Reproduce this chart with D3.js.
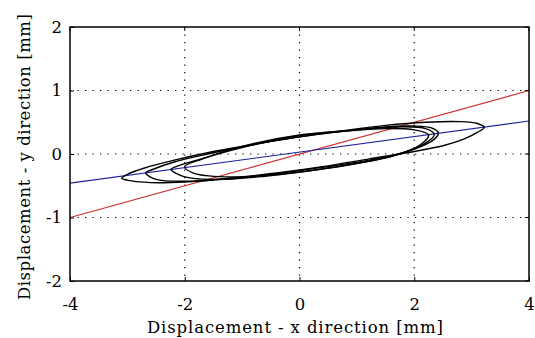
<!DOCTYPE html>
<html>
<head>
<meta charset="utf-8">
<script src="https://cdn.jsdelivr.net/npm/d3@7"></script>
<style>
  body { margin: 0; background: #fff; }
  svg text { font-family: "DejaVu Serif", serif; fill: #000; }
</style>
</head>
<body>
<div id="chart"></div>
<script>
// tick values on both axes
const xTicks = [-4, -2, 0, 2, 4];
const yTicks = [-2, -1, 0, 1, 2];

// straight reference lines (endpoints)
const redLine = [[-4, -1.0], [4, 1.0]];
const blueLine = [[-4, -0.46], [4, 0.52]];

// orbit loops, points (closed curves)
const loopOuter = [
  [3.22, 0.42], [3.1, 0.48], [2.8, 0.51], [2.2, 0.5], [1.5, 0.45], [0.8, 0.37], [0, 0.27],
  [-0.8, 0.15], [-1.6, 0.02], [-2.2, -0.1], [-2.7, -0.22], [-3.0, -0.32], [-3.1, -0.38],
  [-2.95, -0.42], [-2.6, -0.45], [-2.0, -0.44], [-1.2, -0.38], [-0.4, -0.3], [0.4, -0.2],
  [1.2, -0.08], [2.0, 0.04], [2.5, 0.13], [2.85, 0.23], [3.1, 0.34]
];
const loopMid = [
  [2.42, 0.33], [2.3, 0.41], [2.0, 0.44], [1.4, 0.42], [0.6, 0.34], [0, 0.27], [-0.8, 0.15],
  [-1.6, 0.0], [-2.2, -0.13], [-2.55, -0.24], [-2.68, -0.3],
  [-2.5, -0.4], [-2.0, -0.43], [-1.2, -0.39], [-0.4, -0.31], [0.4, -0.21], [1.2, -0.1],
  [1.8, 0.02], [2.2, 0.15], [2.38, 0.26]
];
const loopInner = [
  [2.35, 0.31], [2.2, 0.4], [1.8, 0.43], [1.0, 0.38], [0, 0.29], [-1.0, 0.1], [-1.8, -0.1],
  [-2.15, -0.2], [-2.24, -0.24],
  [-2.0, -0.36], [-1.4, -0.4], [-0.6, -0.35], [0.2, -0.26], [1.0, -0.15], [1.6, -0.04], [2.1, 0.12]
];
const loopSmall = [
  [2.25, 0.3], [2.0, 0.38], [1.5, 0.4], [0.8, 0.36], [0, 0.3], [-1.0, 0.12], [-1.7, -0.08],
  [-2.0, -0.2], [-1.85, -0.3], [-1.3, -0.36], [-0.5, -0.33], [0.3, -0.25], [1.1, -0.13],
  [1.7, -0.01], [2.1, 0.14]
];
const loops = [loopOuter, loopMid, loopInner, loopSmall];

const W = 535, H = 338;
const m = { left: 70, right: 6, top: 27, bottom: 57 };

const svg = d3.select("#chart").append("svg")
  .attr("width", W).attr("height", H);

const x = d3.scaleLinear().domain([-4, 4]).range([m.left, W - m.right]);
const y = d3.scaleLinear().domain([-2, 2]).range([H - m.bottom, m.top]);

// dotted grid
const grid = svg.append("g")
  .attr("stroke", "#000").attr("stroke-width", 1.2)
  .attr("stroke-dasharray", "1.3,6.2");
grid.selectAll(".gx").data(xTicks.slice(1, -1)).enter().append("line")
  .attr("x1", d => x(d)).attr("x2", d => x(d))
  .attr("y1", y(2)).attr("y2", y(-2));
grid.selectAll(".gy").data(yTicks.slice(1, -1)).enter().append("line")
  .attr("y1", d => y(d)).attr("y2", d => y(d))
  .attr("x1", x(-4)).attr("x2", x(4));

const line = d3.line().x(d => x(d[0])).y(d => y(d[1]));

svg.append("path").datum(redLine).attr("d", line)
  .attr("fill", "none").attr("stroke", "#cc3333").attr("stroke-width", 1.2);
svg.append("path").datum(blueLine).attr("d", line)
  .attr("fill", "none").attr("stroke", "#2222a0").attr("stroke-width", 1.2);

const loopLine = d3.line().x(d => x(d[0])).y(d => y(d[1]))
  .curve(d3.curveCatmullRomClosed.alpha(0.5));
svg.selectAll(".loop").data(loops).enter().append("path")
  .attr("d", loopLine)
  .attr("fill", "none").attr("stroke", "#000").attr("stroke-width", 1.4);

// axes (MATLAB style: inward ticks, box)
const xAxis = d3.axisBottom(x).tickValues(xTicks).tickSize(-4).tickPadding(17)
  .tickFormat(d3.format("d"));
const yAxis = d3.axisLeft(y).tickValues(yTicks).tickSize(-4).tickPadding(8)
  .tickFormat(d3.format("d"));

const gx = svg.append("g").attr("transform", `translate(0,${y(-2)})`).call(xAxis);
const gy = svg.append("g").attr("transform", `translate(${x(-4)},0)`).call(yAxis);
[gx, gy].forEach(g => {
  g.select(".domain").remove();
  g.selectAll("text").style("font-size", "16.5px").style("font-family", "DejaVu Serif");
  g.selectAll("line").attr("stroke", "#000");
});
gx.selectAll("text").text(d => d < 0 ? "-" + Math.abs(d) : d);
gy.selectAll("text").text(d => d < 0 ? "-" + Math.abs(d) : d);

// top and right ticks
svg.append("g").selectAll("line").data(xTicks).enter().append("line")
  .attr("x1", d => x(d)).attr("x2", d => x(d))
  .attr("y1", y(2)).attr("y2", y(2) + 4).attr("stroke", "#000");
svg.append("g").selectAll("line").data(yTicks).enter().append("line")
  .attr("y1", d => y(d)).attr("y2", d => y(d))
  .attr("x1", x(4)).attr("x2", x(4) - 4).attr("stroke", "#000");

svg.append("rect")
  .attr("x", x(-4)).attr("y", y(2))
  .attr("width", x(4) - x(-4)).attr("height", y(-2) - y(2))
  .attr("fill", "none").attr("stroke", "#000").attr("stroke-width", 1.5);

svg.append("text")
  .attr("x", 295).attr("y", 333)
  .attr("text-anchor", "middle").style("font-size", "16.5px")
  .attr("textLength", 296).attr("lengthAdjust", "spacing")
  .text("Displacement - x direction [mm]");

svg.append("text")
  .attr("transform", `translate(30,157) rotate(-90)`)
  .attr("text-anchor", "middle").style("font-size", "16.5px")
  .attr("textLength", 286).attr("lengthAdjust", "spacing")
  .text("Displacement - y direction [mm]");
</script>
</body>
</html>
